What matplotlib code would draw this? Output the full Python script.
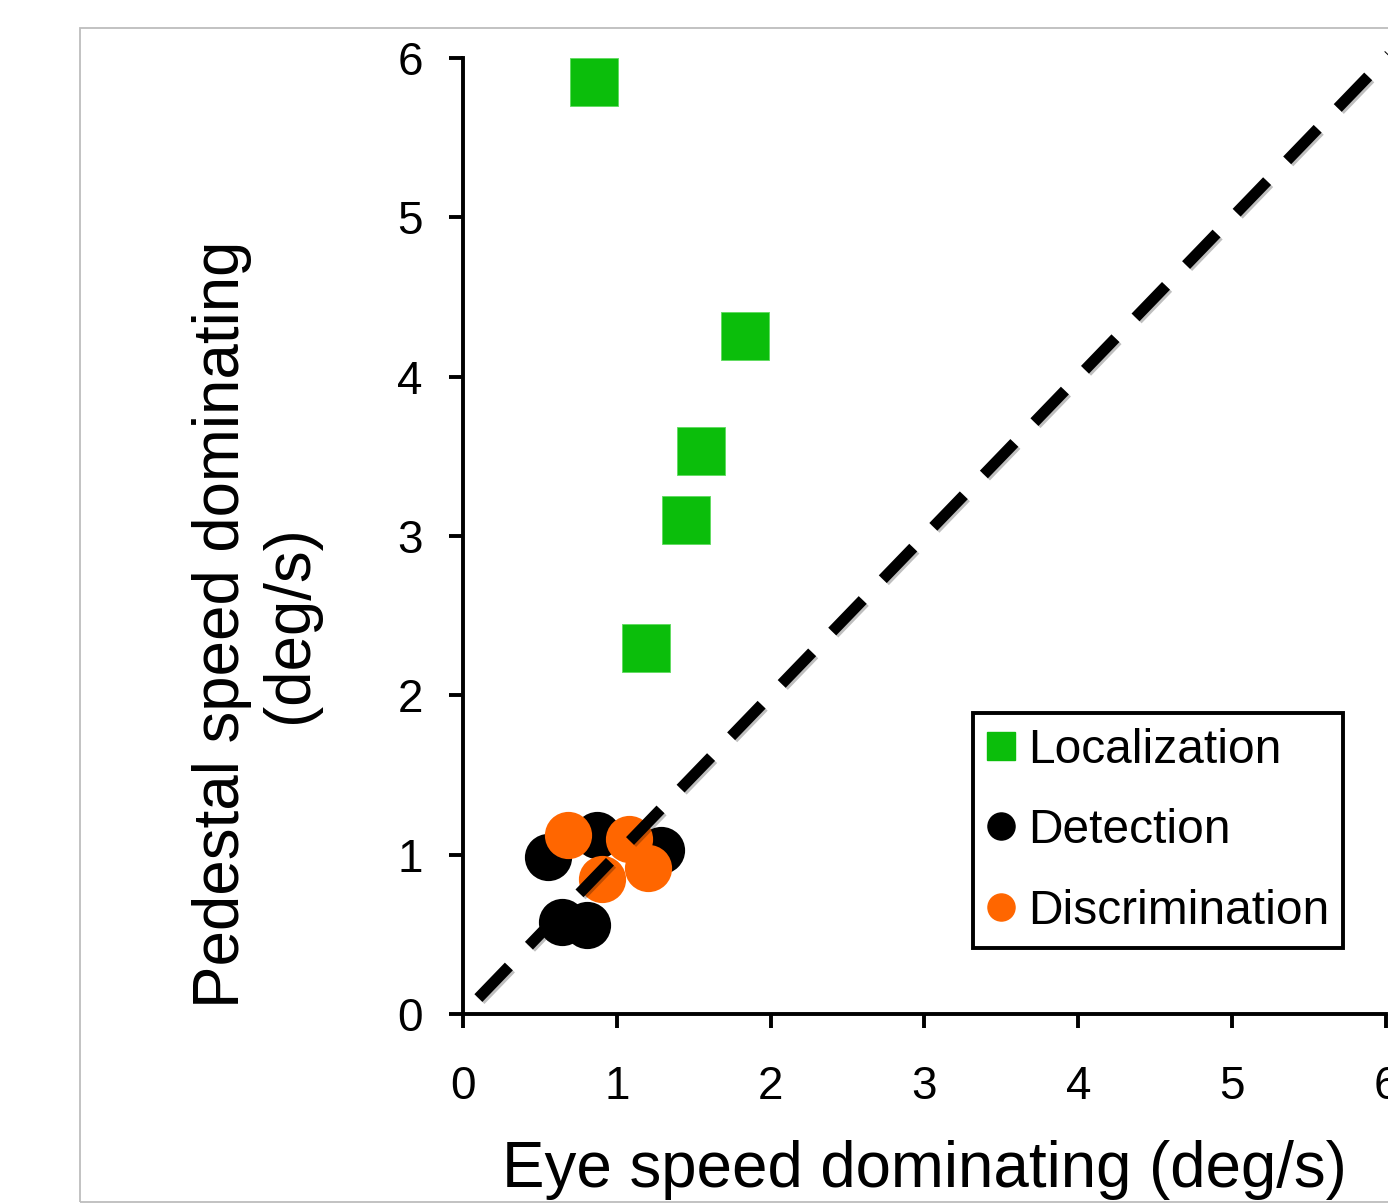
import matplotlib
matplotlib.use("Agg")
import matplotlib.pyplot as plt
import matplotlib.patheffects as pe
from matplotlib.lines import Line2D
from matplotlib.patches import Rectangle

plt.rcParams['font.family'] = ['Liberation Sans', 'DejaVu Sans']

# data (deg/s)
loc_x = [0.85, 1.83, 1.545, 1.452, 1.19]
loc_y = [5.85, 4.253, 3.534, 3.10, 2.30]

det_x = [0.555, 0.869, 1.287, 0.642, 0.804]
det_y = [0.983, 1.123, 1.029, 0.579, 0.558]

dis_x = [0.685, 1.081, 0.902, 1.201]
dis_y = [1.123, 1.096, 0.845, 0.918]

# unity line, runs off the top-right corner
unity = [0.1, 6.1]

ticks = [0, 1, 2, 3, 4, 5, 6]

GREEN = '#0BBE0B'
ORANGE = '#FF6600'

fig = plt.figure(figsize=(13.88, 12.04), dpi=100)
ax = fig.add_axes([0.33357, 0.15781, 0.66499, 0.79402])

# grey frame round the panel
fig.patches.append(Rectangle((80/1388, 2/1204), 1.2, (1202-28)/1204,
                             transform=fig.transFigure, fill=False,
                             edgecolor='#BDBDBD', linewidth=1.3, clip_on=False))

ax.scatter(loc_x, loc_y, s=34.6**2, marker='s', color=GREEN,
           edgecolor='#5EDB5E', linewidth=0.6, zorder=3)
ax.scatter(det_x, det_y, s=34**2, marker='o', color='black', linewidth=0, zorder=3)
ax.scatter(dis_x, dis_y, s=34**2, marker='o', color=ORANGE, linewidth=0, zorder=4)

ax.plot(unity, unity, color='black', linewidth=8, dashes=(3.95, 2.6),
        dash_capstyle='butt', zorder=5, clip_on=False,
        path_effects=[pe.SimpleLineShadow(offset=(1.5, -1.5), alpha=0.25),
                      pe.Normal()])

ax.set_xlim(0, 6)
ax.set_ylim(0, 6)
ax.set_xticks(ticks)
ax.set_yticks(ticks)
ax.spines['top'].set_visible(False)
ax.spines['right'].set_visible(False)
for s in ['left', 'bottom']:
    ax.spines[s].set_linewidth(2.8)
ax.tick_params(axis='both', direction='out', length=10, width=2.8,
               labelsize=33)
ax.tick_params(axis='x', pad=27)
ax.tick_params(axis='y', pad=19)

fig.text(924/1388, 1 - 1187/1204, 'Eye speed dominating (deg/s)',
         fontsize=45.8, ha='center', va='baseline')
fig.text(256/1388, 1 - 624/1204, 'Pedestal speed dominating\n(deg/s)',
         fontsize=45.8, rotation=90, ha='center', va='center',
         multialignment='center', linespacing=1.15)

handles = [
    Line2D([], [], marker='s', linestyle='none', color=GREEN, markersize=19.5),
    Line2D([], [], marker='o', linestyle='none', color='black', markersize=19.5),
    Line2D([], [], marker='o', linestyle='none', color=ORANGE, markersize=19.5),
]
leg = fig.legend(handles, ['Localization', 'Detection', 'Discrimination'],
                 loc='upper left', bbox_to_anchor=(972.7/1388, 1 - 713.3/1204),
                 bbox_transform=fig.transFigure, borderaxespad=0,
                 fontsize=34.5, frameon=True, fancybox=False, framealpha=1,
                 handlelength=0.6, handletextpad=0.25, borderpad=0.3,
                 labelspacing=0.74)
leg.get_frame().set_edgecolor('black')
leg.get_frame().set_linewidth(2.8)

fig.savefig('out.png', dpi=100)
